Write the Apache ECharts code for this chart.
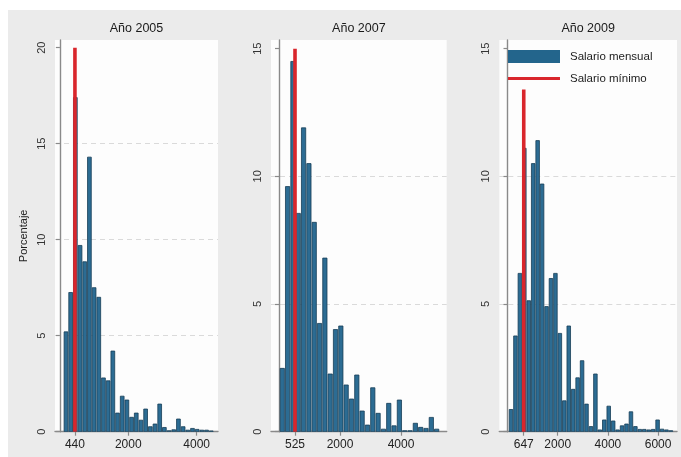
<!DOCTYPE html>
<html><head><meta charset="utf-8">
<script src="https://cdn.jsdelivr.net/npm/echarts@6/dist/echarts.min.js"></script>
<style>
html,body{margin:0;padding:0;background:#fff;}
#wrap{position:relative;width:681px;height:457px;overflow:hidden;background:#fff;}
#bg{position:absolute;left:8px;top:10px;width:673px;height:447px;background:#ebebeb;}
#chart{position:absolute;left:0;top:0;width:681px;height:457px;}
</style></head><body>
<div id="wrap"><div id="bg"></div><div id="chart"></div></div>
<script>
// ---- data ----
const panelTitles = ['Año 2005', 'Año 2007', 'Año 2009'];
const seriesNames = ['Salario mensual', 'Salario mínimo'];
const yAxisTitle = 'Porcentaje';

const binStart2005 = 109.5, binWidth2005 = 137;
const pct2005 = [5.2, 7.25, 17.4, 9.7, 8.85, 14.3, 7.5, 7.0, 2.8, 2.65, 4.2, 0.97, 1.85, 1.65, 0.75, 0.97,
  0.6, 1.18, 0.26, 0.4, 1.44, 0.22, 0.05, 0.1, 0.66, 0.26, 0.08, 0.17, 0.12, 0.08, 0.08, 0.04];

const binStart2007 = 20.75, binWidth2007 = 174.5;
const pct2007 = [2.48, 9.6, 14.5, 8.55, 11.9, 10.5, 8.2, 4.24, 6.8, 2.26, 4.0, 4.14, 1.83, 1.28, 2.22, 0.81,
  0.26, 1.72, 0.72, 0.1, 1.11, 0.23, 1.24, 0.04, 0.04, 0.33, 0.17, 0.13, 0.56, 0.1];

const binStart2009 = 50.5, binWidth2009 = 177;
const pct2009 = [0.87, 3.75, 6.2, 11.1, 5.13, 10.5, 11.4, 9.7, 4.9, 6.0, 6.2, 3.85, 1.21, 4.14, 1.66, 2.11,
  2.78, 1.08, 0.2, 2.26, 0.07, 0.46, 1.0, 0.42, 0.07, 0.23, 0.3, 0.78, 0.2, 0.09, 0.09, 0.07, 0.09, 0.46, 0.1, 0.07, 0.04];

const minWage = [440, 525, 647];
const minWageLineTop = [20, 15, 13.4];

const xTickLabels = [[440, 2000, 4000], [525, 2000, 4000], [647, 2000, 4000, 6000]];
const yTickLabels = [[0, 5, 10, 15, 20], [0, 5, 10, 15], [0, 5, 10, 15]];

// ---- layout (positions / ranges) ----
const gridBoxes = [
  {left: 55, top: 40, width: 163, height: 391.7},
  {left: 271, top: 40, width: 175.7, height: 391.7},
  {left: 499.3, top: 40, width: 177.7, height: 391.7}
];
const xRange = [[-143, 4623], [-262, 5498], [-327, 6753]];
const yMax = [20.4, 15.34, 15.34];

const FONT = 'Liberation Sans, Arial, sans-serif';
const BAR_FILL = '#2c6c93';
const BAR_EDGE = '#173d57';
const RED = '#d9262c';
const AXIS = '#8a8a8a';

const hist = [
  {start: binStart2005, width: binWidth2005, vals: pct2005},
  {start: binStart2007, width: binWidth2007, vals: pct2007},
  {start: binStart2009, width: binWidth2009, vals: pct2009}
];

const plain = v => String(v);
const grids = [], xAxes = [], yAxes = [], series = [], graphics = [];
hist.forEach((h, i) => {
  const g = gridBoxes[i];
  grids.push({left: g.left, top: g.top, width: g.width, height: g.height,
    show: true, backgroundColor: '#fdfdfd', borderWidth: 0});
  xAxes.push({
    type: 'value', gridIndex: i, min: xRange[i][0], max: xRange[i][1],
    axisLine: {show: true, onZero: false, lineStyle: {color: AXIS, width: 1.4}},
    axisTick: {show: true, length: 4, customValues: xTickLabels[i], lineStyle: {color: AXIS, width: 1.2}},
    axisLabel: {customValues: xTickLabels[i], formatter: plain, fontSize: 12, color: '#222', margin: 7, fontFamily: FONT},
    splitLine: {show: false}
  });
  yAxes.push({
    type: 'value', gridIndex: i, min: 0, max: yMax[i], interval: 5,
    name: i === 0 ? yAxisTitle : '', nameLocation: 'middle', nameRotate: 90, nameGap: 26,
    nameTextStyle: {fontSize: 11, color: '#222', fontFamily: FONT},
    axisLine: {show: true, lineStyle: {color: AXIS, width: 1.4}},
    axisTick: {show: true, length: 4, customValues: yTickLabels[i], lineStyle: {color: AXIS, width: 1.2}},
    axisLabel: {customValues: yTickLabels[i], formatter: plain, rotate: 90, fontSize: 11, color: '#333', margin: 8, fontFamily: FONT},
    splitLine: {show: true, showMinLine: false, showMaxLine: false,
      lineStyle: {color: '#dadada', type: [5, 4], width: 1}}
  });
  const data = h.vals.map((v, k) => [h.start + (k + 0.5) * h.width, v, h.width]);
  series.push({
    type: 'custom', name: seriesNames[0], xAxisIndex: i, yAxisIndex: i,
    itemStyle: {color: BAR_FILL}, clip: true, z: 2,
    encode: {x: 0, y: 1},
    data: data,
    renderItem: function (params, api) {
      const c = api.value(0), v = api.value(1), w = api.value(2);
      const p0 = api.coord([c - w * 0.4, v]);
      const p1 = api.coord([c + w * 0.4, 0]);
      return {type: 'rect',
        shape: {x: p0[0], y: p0[1], width: p1[0] - p0[0], height: p1[1] - p0[1]},
        style: {fill: BAR_FILL, stroke: BAR_EDGE, lineWidth: 0.8}};
    }
  });
  series.push({
    type: 'line', name: seriesNames[1], xAxisIndex: i, yAxisIndex: i,
    data: [[minWage[i], 0], [minWage[i], minWageLineTop[i]]],
    symbol: 'none', z: 5,
    itemStyle: {color: RED},
    lineStyle: {color: RED, width: 3.6}
  });
  graphics.push({type: 'text', x: g.left + g.width / 2, y: 29,
    style: {text: panelTitles[i], align: 'center', verticalAlign: 'middle',
      fontSize: 12.5, fill: '#1a1a1a', fontFamily: FONT}});
});

const chart = echarts.init(document.getElementById('chart'), null, {renderer: 'canvas'});
chart.setOption({
  backgroundColor: 'transparent',
  animation: false,
  grid: grids, xAxis: xAxes, yAxis: yAxes, series: series,
  graphic: graphics,
  legend: {
    show: true, orient: 'vertical', left: 508, top: 50, padding: 0,
    itemWidth: 52, itemHeight: 13, itemGap: 9, selectedMode: false,
    textStyle: {fontSize: 11.5, color: '#222', fontFamily: FONT, padding: [0, 0, 0, 5]},
    data: [
      {name: seriesNames[0], icon: 'rect', itemStyle: {color: '#23658c', borderWidth: 0}},
      {name: seriesNames[1], icon: 'path://M0,0H52V0.01H0Z M0,5H52V8H0Z M0,13H52V13.01H0Z',
        itemStyle: {color: RED, borderWidth: 0}}
    ]
  }
});
</script>
</body></html>
